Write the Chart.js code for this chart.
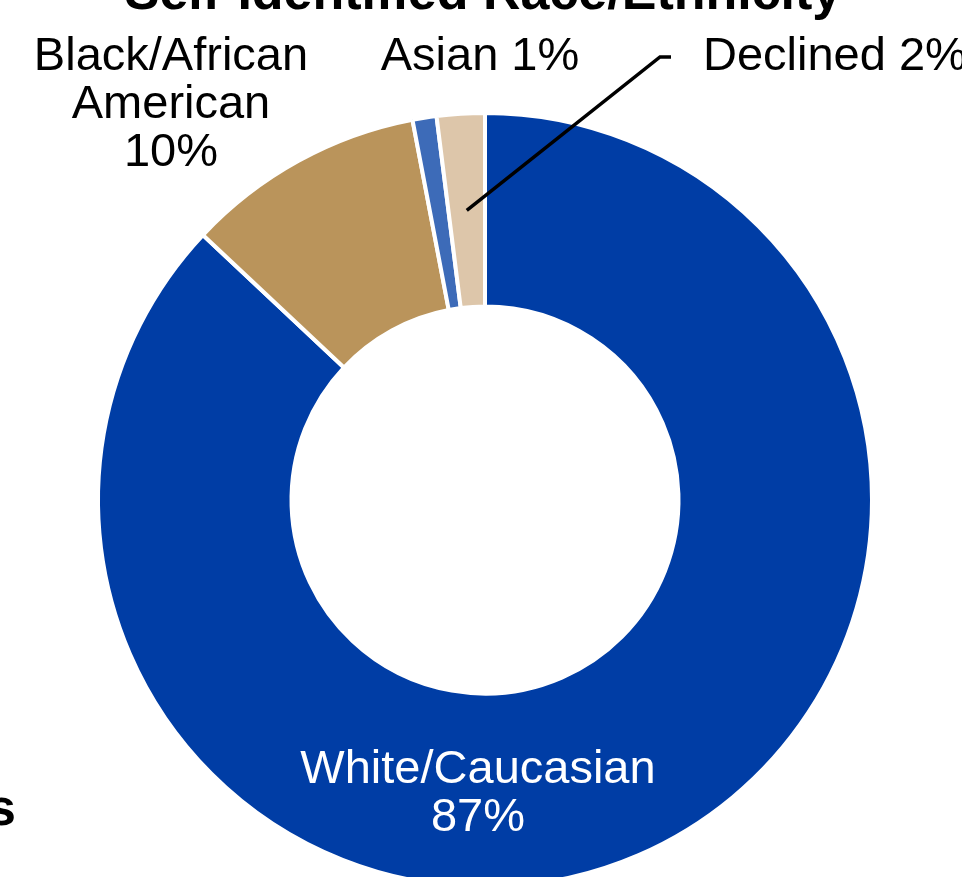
<!DOCTYPE html>
<html>
<head>
<meta charset="utf-8">
<title>Self-Identified Race/Ethnicity</title>
<script src="https://cdn.jsdelivr.net/npm/chart.js@4.4.1/dist/chart.umd.min.js"></script>
<style>
  html, body { margin: 0; padding: 0; background: #ffffff; overflow: hidden; }
  #wrap { position: absolute; left: 0; top: 0; width: 962px; height: 1000px; }
</style>
</head>
<body>
<div id="wrap"><canvas id="chart" width="962" height="1000"></canvas></div>
<script>
// Survey breakdown, in percent
const chartTitle = 'Self-Identified Race/Ethnicity';
const categories = ['White/Caucasian', 'Black/African American', 'Asian', 'Declined'];
const labelLines = [['White/Caucasian'], ['Black/African', 'American'], ['Asian'], ['Declined']];
const shares = [87, 10, 1, 2];
const sliceColors = ['#003DA5', '#BA945B', '#3D6BB8', '#DDC6AA'];

const FONT = "'Liberation Sans', Arial, Helvetica, sans-serif";

// Draws the title and slice labels (with a leader line for the small slice)
const sliceLabels = {
  id: 'sliceLabels',
  afterDatasetsDraw(chart) {
    const ctx = chart.ctx;
    const arcs = chart.getDatasetMeta(0).data;
    const cx = arcs[0].x, cy = arcs[0].y;
    const pct = i => Math.round(shares[i]) + '%';
    ctx.save();
    ctx.textBaseline = 'alphabetic';

    // title (partly above the visible area)
    ctx.fillStyle = '#000';
    ctx.font = 'bold 52px ' + FONT;
    ctx.textAlign = 'center';
    ctx.fillText(chartTitle, cx - 2, cy - 491);

    // neighbouring heading fragment at the left edge
    ctx.textAlign = 'right';
    ctx.fillText('s', 16, cy + 325);

    ctx.font = '47px ' + FONT;

    // White/Caucasian: inside the ring
    ctx.fillStyle = '#ffffff';
    ctx.textAlign = 'center';
    ctx.fillText(labelLines[0][0], cx - 7, cy + 283);
    ctx.fillText(pct(0), cx - 7, cy + 331);

    ctx.fillStyle = '#000000';
    // Black/African American
    ctx.fillText(labelLines[1][0], 171, 70);
    ctx.fillText(labelLines[1][1], 171, 118);
    ctx.fillText(pct(1), 171, 166);

    // Asian
    ctx.fillText(labelLines[2][0] + ' ' + pct(2), 480, 70);

    // Declined, with leader line to its slice
    ctx.textAlign = 'left';
    ctx.fillText(labelLines[3][0] + ' ' + pct(3), 703, 70);
    const p = arcs[3].tooltipPosition();
    ctx.strokeStyle = '#000000';
    ctx.lineWidth = 3.5;
    ctx.beginPath();
    ctx.moveTo(p.x, p.y);
    ctx.lineTo(660, 57);
    ctx.lineTo(671, 57);
    ctx.stroke();

    ctx.restore();
  }
};

new Chart(document.getElementById('chart'), {
  type: 'doughnut',
  data: {
    labels: categories,
    datasets: [{
      data: shares,
      backgroundColor: sliceColors,
      borderColor: '#ffffff',
      borderWidth: 4
    }]
  },
  options: {
    responsive: false,
    animation: false,
    radius: 387,
    cutout: '50%',
    layout: { padding: { left: 100, right: 92, top: 115, bottom: 115 } },
    plugins: {
      legend: { display: false },
      title: { display: false },
      tooltip: { enabled: false }
    }
  },
  plugins: [sliceLabels]
});
</script>
</body>
</html>
